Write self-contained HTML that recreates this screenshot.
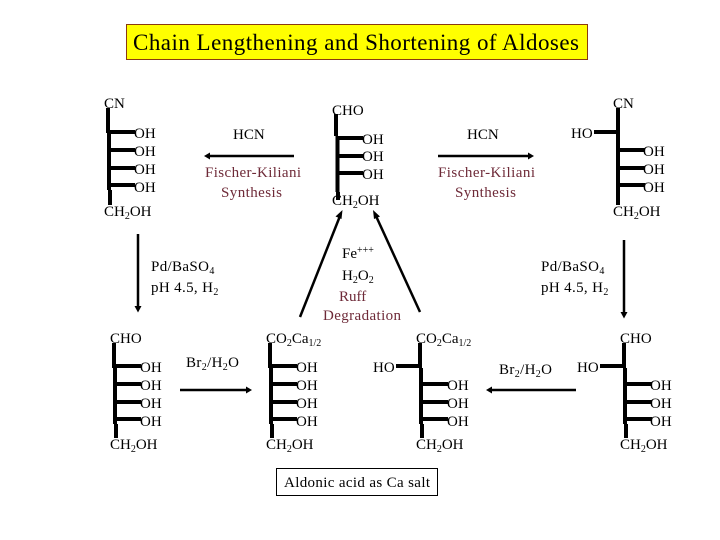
<!DOCTYPE html>
<html>
<head>
<meta charset="utf-8">
<style>
html,body{margin:0;padding:0;background:#fff}
svg{display:block}
text{font-family:"Liberation Serif",serif;font-size:15px;fill:#000}
.r{fill:#6e2a38}
.s{font-size:10px}
.w{letter-spacing:.35px}
.l{stroke:#000;stroke-width:4;fill:none}
.a{stroke:#000;stroke-width:2.5;fill:none}
</style>
</head>
<body>
<svg width="720" height="540" viewBox="0 0 720 540" xmlns="http://www.w3.org/2000/svg">
<rect x="126.500" y="24.500" width="461" height="35" fill="#ffff00" stroke="#8a3a10" stroke-width="1"/>
<text x="133" y="50" style="font-size:23px" textLength="446">Chain Lengthening and Shortening of Aldoses</text>

<!-- top left structure -->
<path class="l" d="M108 108V133M109 133V190M110 190V205M108 132H135M109 150H135M109 168H135M109 185H135"/>
<text x="104" y="108">CN</text>
<text x="134" y="138">OH</text><text x="134" y="156">OH</text><text x="134" y="174">OH</text><text x="134" y="192">OH</text>
<text x="104" y="216">CH<tspan class="s" dy="3">2</tspan><tspan dy="-3">OH</tspan></text>

<!-- HCN left -->
<text x="233" y="139">HCN</text>
<path class="a" d="M294 156H208"/><path d="M204 156L210 152.500V159.500Z"/>
<text class="r" x="205" y="177" textLength="96">Fischer-Kiliani</text>
<text class="r" x="221" y="197" textLength="61">Synthesis</text>

<!-- top middle structure -->
<path class="l" d="M336 114V136M337.500 136V192M338 192V200M337 138H363M337 156H363M337 173H363"/>
<text x="332" y="115">CHO</text>
<text x="362" y="144">OH</text><text x="362" y="161">OH</text><text x="362" y="179">OH</text>
<text x="332" y="205">CH<tspan class="s" dy="3">2</tspan><tspan dy="-3">OH</tspan></text>

<!-- HCN right -->
<text x="467" y="139">HCN</text>
<path class="a" d="M438 156H530"/><path d="M534 156L528 152.500V159.500Z"/>
<text class="r" x="438" y="177" textLength="97">Fischer-Kiliani</text>
<text class="r" x="455" y="197" textLength="61">Synthesis</text>

<!-- top right structure -->
<path class="l" d="M618 108V205M594 132H618M620 150H645M620 168H645M620 185H645"/>
<text x="613" y="108">CN</text>
<text x="571" y="138">HO</text>
<text x="643" y="156">OH</text><text x="643" y="174">OH</text><text x="643" y="192">OH</text>
<text x="613" y="216">CH<tspan class="s" dy="3">2</tspan><tspan dy="-3">OH</tspan></text>

<!-- down arrows -->
<path class="a" d="M138 234V308"/><path d="M138 312.500L134.500 306H141.500Z"/>
<text class="w" x="151" y="271">Pd/BaSO<tspan class="s" dy="3">4</tspan></text>
<text class="w" x="151" y="292">pH 4.5, H<tspan class="s" dy="3">2</tspan></text>
<path class="a" d="M624 240V314"/><path d="M624 318.500L620.500 312H627.500Z"/>
<text class="w" x="541" y="271">Pd/BaSO<tspan class="s" dy="3">4</tspan></text>
<text class="w" x="541" y="292">pH 4.5, H<tspan class="s" dy="3">2</tspan></text>

<!-- ruff degradation -->
<path class="a" d="M300 317L340 216"/><path d="M342.500 210L341.500 219L335.500 216.500Z"/>
<path class="a" d="M420 312L376 216"/><path d="M373 210L374 219L380 216.500Z"/>
<text x="342" y="258">Fe<tspan class="s" dy="-5">+++</tspan></text>
<text x="342" y="280">H<tspan class="s" dy="3">2</tspan><tspan dy="-3">O</tspan><tspan class="s" dy="3">2</tspan></text>
<text class="r" x="339" y="301">Ruff</text>
<text class="r" x="323" y="320" textLength="78">Degradation</text>

<!-- bottom structure 1 -->
<path class="l" d="M114 343V368M115 368V424M116 424V438M114 366H141M115 384H141M115 402H141M115 419H141"/>
<text x="110" y="343">CHO</text>
<text x="140" y="372">OH</text><text x="140" y="390">OH</text><text x="140" y="408">OH</text><text x="140" y="426">OH</text>
<text x="110" y="449">CH<tspan class="s" dy="3">2</tspan><tspan dy="-3">OH</tspan></text>

<text class="w" x="186" y="367">Br<tspan class="s" dy="3">2</tspan><tspan dy="-3">/H</tspan><tspan class="s" dy="3">2</tspan><tspan dy="-3">O</tspan></text>
<path class="a" d="M180 390H248"/><path d="M252 390L246 386.500V393.500Z"/>

<!-- bottom structure 2 -->
<path class="l" d="M270 343V368M271 368V424M272 424V438M270 366H297M271 384H297M271 402H297M271 419H297"/>
<text x="266" y="343">CO<tspan class="s" dy="3">2</tspan><tspan dy="-3">Ca</tspan><tspan class="s" dy="3">1/2</tspan></text>
<text x="296" y="372">OH</text><text x="296" y="390">OH</text><text x="296" y="408">OH</text><text x="296" y="426">OH</text>
<text x="266" y="449">CH<tspan class="s" dy="3">2</tspan><tspan dy="-3">OH</tspan></text>

<!-- bottom structure 3 -->
<path class="l" d="M420 343V368M421 368V424M422 424V438M396 366H421M423 384H448M423 402H448M423 419H448"/>
<text x="416" y="343">CO<tspan class="s" dy="3">2</tspan><tspan dy="-3">Ca</tspan><tspan class="s" dy="3">1/2</tspan></text>
<text x="373" y="372">HO</text>
<text x="447" y="390">OH</text><text x="447" y="408">OH</text><text x="447" y="426">OH</text>
<text x="416" y="449">CH<tspan class="s" dy="3">2</tspan><tspan dy="-3">OH</tspan></text>

<text class="w" x="499" y="374">Br<tspan class="s" dy="3">2</tspan><tspan dy="-3">/H</tspan><tspan class="s" dy="3">2</tspan><tspan dy="-3">O</tspan></text>
<path class="a" d="M576 390H490"/><path d="M486 390L492 386.500V393.500Z"/>

<!-- bottom structure 4 -->
<path class="l" d="M624 343V368M625 368V424M626 424V438M600 366H625M627 384H652M627 402H652M627 419H652"/>
<text x="620" y="343">CHO</text>
<text x="577" y="372">HO</text>
<text x="650" y="390">OH</text><text x="650" y="408">OH</text><text x="650" y="426">OH</text>
<text x="620" y="449">CH<tspan class="s" dy="3">2</tspan><tspan dy="-3">OH</tspan></text>

<!-- aldonic label -->
<rect x="276.500" y="468.500" width="161" height="27" fill="#fff" stroke="#000" stroke-width="1"/>
<text x="284" y="487" textLength="146">Aldonic acid as Ca salt</text>
</svg>
</body>
</html>
